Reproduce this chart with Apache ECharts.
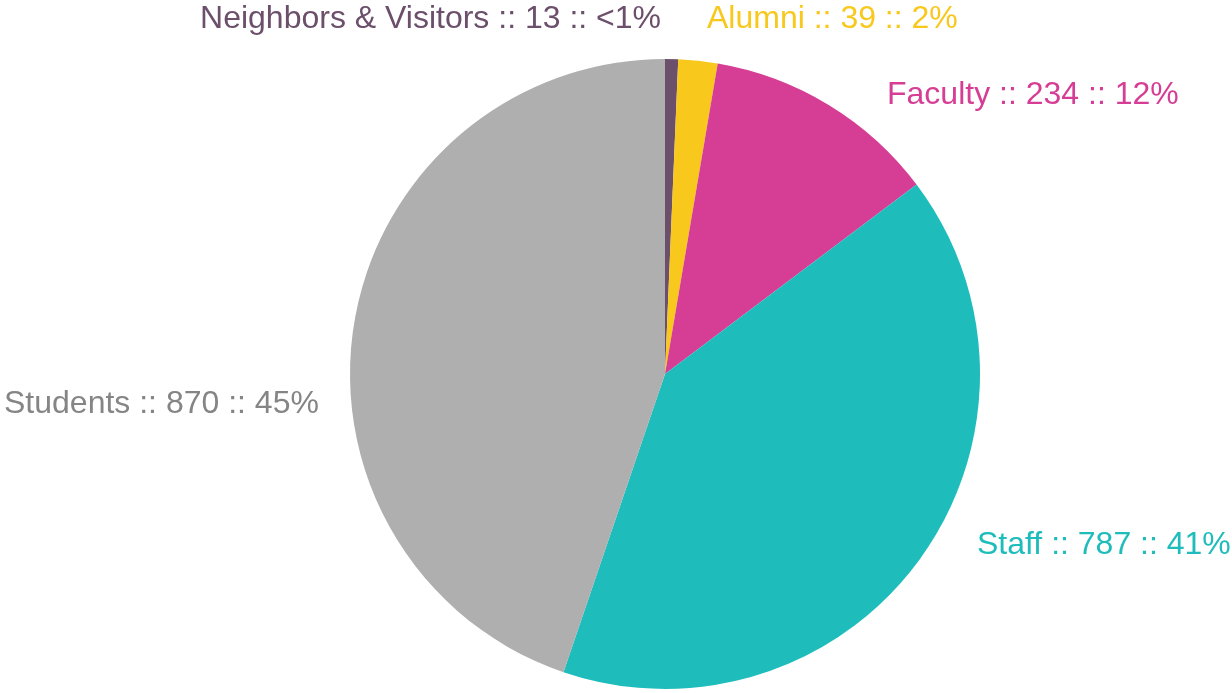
<!DOCTYPE html>
<html>
<head>
<meta charset="utf-8">
<script src="https://cdn.jsdelivr.net/npm/echarts@6/dist/echarts.min.js"></script>
<style>
  html, body { margin: 0; padding: 0; background: #fff; }
  #chart { width: 1232px; height: 693px; }
</style>
</head>
<body>
<div id="chart"></div>
<script>
// data
const groups = ["Neighbors & Visitors", "Alumni", "Faculty", "Staff", "Students"];
const counts = [13, 39, 234, 787, 870];
const shares = ["<1%", "2%", "12%", "41%", "45%"];

// styling
const sliceColors = ["#6b4f6b", "#f8c81c", "#d63d94", "#1fbcbc", "#afafaf"];
const labelColors = ["#6b4f6b", "#f8c81c", "#d63d94", "#1fbcbc", "#858585"];
// label anchors (text only)
const labelSpots = [
  { x: 661, y: 19, align: "right" },
  { x: 707, y: 19, align: "left" },
  { x: 887, y: 95, align: "left" },
  { x: 977, y: 545, align: "left" },
  { x: 4, y: 404, align: "left" },
];

const chart = echarts.init(document.getElementById("chart"));

const pieData = groups.map((name, i) => {
  return {
    name: name,
    value: counts[i],
    itemStyle: { color: sliceColors[i] },
    label: { color: labelColors[i] },
  };
});

const option = {
  animation: false,
  series: [
    {
      type: "pie",
      center: [665, 374],
      radius: [0, 315],
      startAngle: 90,
      clockwise: true,
      data: pieData,
      itemStyle: { borderWidth: 0 },
      label: {
        show: true,
        position: "outside",
        overflow: "none",
        fontFamily: "Liberation Sans, Arial, sans-serif",
        fontSize: 32,
        formatter: (p) => p.name + " :: " + counts[p.dataIndex] + " :: " + shares[p.dataIndex],
      },
      labelLine: { show: false },
      labelLayout: (params) => {
        const s = labelSpots[params.dataIndex];
        return { x: s.x, y: s.y, align: s.align, verticalAlign: "middle", hideOverlap: false };
      },
      emphasis: { disabled: true },
    },
  ],
};
chart.setOption(option);
</script>
</body>
</html>
